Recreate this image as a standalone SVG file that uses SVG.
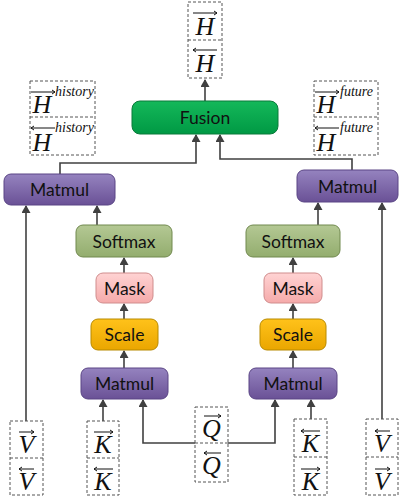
<svg xmlns="http://www.w3.org/2000/svg" width="404" height="499" viewBox="0 0 404 499">
<defs>
<linearGradient id="gP" x1="0" y1="0" x2="0" y2="1"><stop offset="0" stop-color="#9583bf"/><stop offset="1" stop-color="#6a5196"/></linearGradient>
<linearGradient id="gG" x1="0" y1="0" x2="0" y2="1"><stop offset="0" stop-color="#b4c894"/><stop offset="1" stop-color="#93ad6e"/></linearGradient>
<linearGradient id="gR" x1="0" y1="0" x2="0" y2="1"><stop offset="0" stop-color="#ffd3d3"/><stop offset="1" stop-color="#f5aaaa"/></linearGradient>
<linearGradient id="gY" x1="0" y1="0" x2="0" y2="1"><stop offset="0" stop-color="#ffc21a"/><stop offset="1" stop-color="#eaa600"/></linearGradient>
<linearGradient id="gF" x1="0" y1="0" x2="0" y2="1"><stop offset="0" stop-color="#14b85a"/><stop offset="1" stop-color="#009944"/></linearGradient>
<marker id="ah" markerWidth="8" markerHeight="9" refX="7" refY="4.5" orient="auto" markerUnits="userSpaceOnUse">
<path d="M0,0 L8,4.5 L0,9 z" fill="#404040"/>
</marker>
</defs>
<style>
.n{stroke-width:1}
.p{fill:url(#gP);stroke:#5a4585}
.g{fill:url(#gG);stroke:#71894f}
.r{fill:url(#gR);stroke:#d08d8d}
.y{fill:url(#gY);stroke:#b88a00}
.f{fill:url(#gF);stroke:#0a7a3a}
.lbl{font-family:Lato,"Open Sans",sans-serif;font-size:17.5px;fill:#111;text-anchor:middle}
.box{fill:#fff;stroke:#555;stroke-width:1;stroke-dasharray:3,2}
.m{font-family:"Liberation Serif",serif;font-style:italic;font-size:26px;fill:#111;text-anchor:middle}
.sup{font-family:"Liberation Serif",serif;font-style:italic;font-size:14px;fill:#111}
.vec{stroke:#111;stroke-width:1;fill:none}
.c{fill:none;stroke:#404040;stroke-width:1.6;marker-end:url(#ah)}
</style>
<g id="connectors">
<path class="c" d="M205,101 V80"/>
<path class="c" d="M60,174 V163 H196 V135"/>
<path class="c" d="M352,170 V159 H220 V135"/>
<path class="c" d="M97,225 V206"/>
<path class="c" d="M124,273 V258"/>
<path class="c" d="M124,319 V304"/>
<path class="c" d="M124,368 V351"/>
<path class="c" d="M103,421 V400"/>
<path class="c" d="M195,443 H143 V400"/>
<path class="c" d="M26,421 V206"/>
<path class="c" d="M318,225 V203"/>
<path class="c" d="M293,273 V258"/>
<path class="c" d="M293,319 V304"/>
<path class="c" d="M293,368 V351"/>
<path class="c" d="M311,419 V400"/>
<path class="c" d="M228,443 H275 V400"/>
<path class="c" d="M382,419 V203"/>
</g>
<g id="fusion"><rect class="n f" x="132" y="101" width="146" height="33" rx="8"/><text class="lbl" x="205" y="124">Fusion</text></g>
<g id="matmul-left-top"><rect class="n p" x="4" y="174" width="111" height="31" rx="7"/><text class="lbl" x="59.5" y="196">Matmul</text></g>
<g id="matmul-right-top"><rect class="n p" x="297" y="170" width="101" height="32" rx="7"/><text class="lbl" x="347.5" y="192.5">Matmul</text></g>
<g id="softmax-left"><rect class="n g" x="76" y="225" width="96" height="32" rx="7"/><text class="lbl" x="124" y="247.5">Softmax</text></g>
<g id="mask-left"><rect class="n r" x="96" y="273" width="57" height="30" rx="7"/><text class="lbl" x="124.5" y="294.5">Mask</text></g>
<g id="scale-left"><rect class="n y" x="91" y="319" width="67" height="31" rx="7"/><text class="lbl" x="124.5" y="341">Scale</text></g>
<g id="matmul-left"><rect class="n p" x="81" y="368" width="87" height="31" rx="7"/><text class="lbl" x="124.5" y="390">Matmul</text></g>
<g id="softmax-right"><rect class="n g" x="246" y="225" width="94" height="32" rx="7"/><text class="lbl" x="293" y="247.5">Softmax</text></g>
<g id="mask-right"><rect class="n r" x="264" y="273" width="58" height="30" rx="7"/><text class="lbl" x="293" y="294.5">Mask</text></g>
<g id="scale-right"><rect class="n y" x="260" y="319" width="66" height="31" rx="7"/><text class="lbl" x="293" y="341">Scale</text></g>
<g id="matmul-right"><rect class="n p" x="249" y="368" width="88" height="31" rx="7"/><text class="lbl" x="293" y="390">Matmul</text></g>
<g id="H-out">
<rect class="box" x="188" y="2" width="34" height="76"/><line x1="188" y1="40" x2="222" y2="40" stroke="#555" stroke-dasharray="3,2"/>
<text class="m" x="205" y="35">H</text><text class="m" x="205" y="72">H</text>
<path class="vec" d="M193,13 H217 M214,11 L217,13 L214,15"/>
<path class="vec" d="M193,50 H217 M196,48 L193,50 L196,52"/>
</g>
<g id="H-history">
<rect class="box" x="30" y="81" width="65" height="74"/><line x1="30" y1="117" x2="95" y2="117" stroke="#555" stroke-dasharray="3,2"/>
<text class="m" x="42" y="113">H</text><text class="m" x="42" y="151">H</text>
<path class="vec" d="M31,92 H55 M52,90 L55,92 L52,94"/>
<path class="vec" d="M31,128 H55 M34,126 L31,128 L34,130"/>
<text class="sup" x="55" y="96">history</text><text class="sup" x="55" y="132">history</text>
</g>
<g id="H-future">
<rect class="box" x="314" y="81" width="64" height="74"/><line x1="314" y1="117" x2="378" y2="117" stroke="#555" stroke-dasharray="3,2"/>
<text class="m" x="326" y="113">H</text><text class="m" x="326" y="151">H</text>
<path class="vec" d="M315,92 H339 M336,90 L339,92 L336,94"/>
<path class="vec" d="M315,128 H339 M318,126 L315,128 L318,130"/>
<text class="sup" x="340" y="96">future</text><text class="sup" x="340" y="132">future</text>
</g>
<g id="V-left">
<rect class="box" x="10" y="421" width="33" height="74"/><line x1="10" y1="458" x2="43" y2="458" stroke="#555" stroke-dasharray="3,2"/>
<text class="m" x="26.5" y="453">V</text><text class="m" x="26.5" y="490">V</text>
<path class="vec" d="M19,432 H34 M31,430 L34,432 L31,434"/>
<path class="vec" d="M19,469 H34 M22,467 L19,469 L22,471"/>
</g>
<g id="K-left">
<rect class="box" x="87" y="421" width="32" height="74"/><line x1="87" y1="458" x2="119" y2="458" stroke="#555" stroke-dasharray="3,2"/>
<text class="m" x="103" y="453">K</text><text class="m" x="103" y="490">K</text>
<path class="vec" d="M94,432 H113 M110,430 L113,432 L110,434"/>
<path class="vec" d="M94,469 H113 M97,467 L94,469 L97,471"/>
</g>
<g id="Q">
<rect class="box" x="195" y="407" width="33" height="75"/><line x1="195" y1="443" x2="228" y2="443" stroke="#555" stroke-dasharray="3,2"/>
<text class="m" x="211.5" y="437">Q</text><text class="m" x="211.5" y="474">Q</text>
<path class="vec" d="M204,416 H221 M218,414 L221,416 L218,418"/>
<path class="vec" d="M204,453 H221 M207,451 L204,453 L207,455"/>
</g>
<g id="K-right">
<rect class="box" x="294" y="419" width="33" height="76"/><line x1="294" y1="457" x2="327" y2="457" stroke="#555" stroke-dasharray="3,2"/>
<text class="m" x="310.5" y="452">K</text><text class="m" x="310.5" y="490">K</text>
<path class="vec" d="M301,431 H320 M304,429 L301,431 L304,433"/>
<path class="vec" d="M301,469 H320 M317,467 L320,469 L317,471"/>
</g>
<g id="V-right">
<rect class="box" x="366" y="419" width="32" height="76"/><line x1="366" y1="457" x2="398" y2="457" stroke="#555" stroke-dasharray="3,2"/>
<text class="m" x="382" y="452">V</text><text class="m" x="382" y="490">V</text>
<path class="vec" d="M375,431 H390 M378,429 L375,431 L378,433"/>
<path class="vec" d="M375,469 H390 M387,467 L390,469 L387,471"/>
</g>
</svg>
